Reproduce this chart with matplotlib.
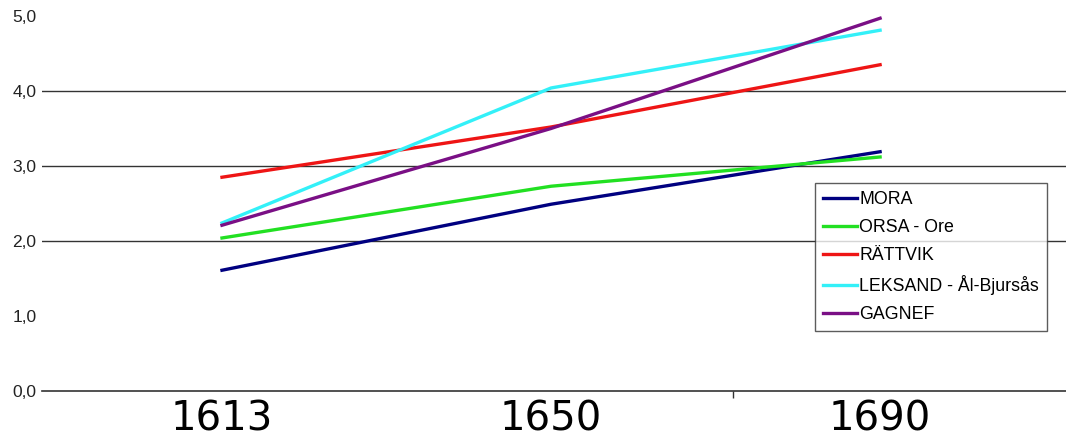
import matplotlib.pyplot as plt
from matplotlib.ticker import FuncFormatter

years = ["1613", "1650", "1690"]
mora = [1.61, 2.49, 3.19]
orsa = [2.04, 2.73, 3.12]
rattvik = [2.85, 3.52, 4.35]
leksand = [2.24, 4.04, 4.81]
gagnef = [2.21, 3.50, 4.97]

series = [
    ("MORA", mora, "#000080"),
    ("ORSA - Ore", orsa, "#22e022"),
    ("RÄTTVIK", rattvik, "#ee1515"),
    ("LEKSAND - Ål-Bjursås", leksand, "#33f0f8"),
    ("GAGNEF", gagnef, "#7a0f85"),
]

fig = plt.figure(figsize=(10.66, 4.41), dpi=100)
ax = fig.add_axes([42 / 1066, 50 / 441, 1 - 42 / 1066, 391 / 441])

x = list(range(len(years)))
for name, vals, col in series:
    ax.plot(x, vals, color=col, lw=2.4, label=name)

ax.set_xlim(-0.547, 2.565)
ax.set_ylim(0, 5.213)

for yv in [2, 3, 4]:
    ax.axhline(yv, color="#333333", lw=1.0, zorder=0)

for s in ["top", "right", "left"]:
    ax.spines[s].set_visible(False)
ax.spines["bottom"].set_color("#333333")
ax.spines["bottom"].set_linewidth(1.2)

ax.set_yticks([0, 1, 2, 3, 4, 5])
ax.yaxis.set_major_formatter(FuncFormatter(lambda v, p: f"{v:.1f}".replace(".", ",")))
ax.tick_params(axis="y", length=0, pad=4, labelsize=12.5, labelcolor="#222222")
for t in ax.get_yticklabels():
    t.set_family(["Liberation Sans", "DejaVu Sans"])

ax.set_xticks(x)
ax.set_xticklabels(years)
ax.tick_params(axis="x", length=0, pad=6, labelsize=29)
for t in ax.get_xticklabels():
    t.set_family(["Liberation Sans Narrow", "DejaVu Sans"])
ax.set_xticks([1.553], minor=True)
ax.tick_params(axis="x", which="minor", length=5, color="#333333", width=1)

leg = ax.legend(loc="upper left", bbox_to_anchor=(815 / 1066, 1 - 183 / 441),
                bbox_transform=fig.transFigure, frameon=True, fancybox=False,
                edgecolor="#333333", handlelength=1.9,
                handletextpad=0.15, labelspacing=0.62, borderpad=0.45,
                borderaxespad=0,
                prop={"family": ["Liberation Sans", "DejaVu Sans"], "size": 12.8})
leg.get_frame().set_linewidth(1.0)

fig.savefig("out.png", dpi=100)
